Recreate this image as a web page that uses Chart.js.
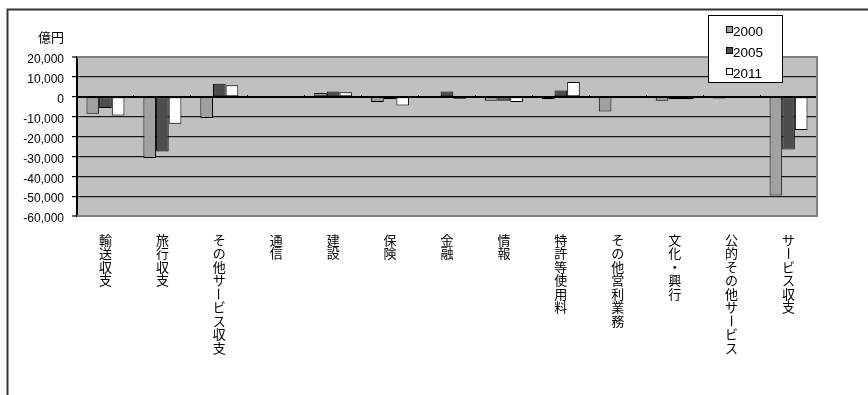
<!DOCTYPE html>
<html lang="ja">
<head>
<meta charset="utf-8">
<title>サービス収支の内訳</title>
<script src="https://cdn.jsdelivr.net/npm/chart.js@4/dist/chart.umd.min.js"></script>
<style>
  html, body { margin: 0; padding: 0; background: #ffffff; }
  #wrap { position: relative; width: 868px; height: 395px; }
</style>
</head>
<body>
<div id="wrap"><canvas id="chart" width="868" height="395"></canvas></div>
<script>
// Service balance breakdown (億円) for 2000, 2005 and 2011
const categories = ['輸送収支', '旅行収支', 'その他サービス収支', '通信', '建設', '保険', '金融', '情報', '特許等使用料', 'その他営利業務', '文化・興行', '公的その他サービス', 'サービス収支'];
const years = ['2000', '2005', '2011'];
const values2000 = [-8500, -30800, -10700, -400, 1900, -2700, 300, -2000, -1200, -7400, -2000, -900, -49700];
const values2005 = [-5700, -27600, 6500, -600, 2600, -1200, 2600, -2000, 3100, 300, -1300, 300, -26500];
const values2011 = [-9400, -13600, 5800, -500, 2300, -4400, -1000, -2600, 7400, 300, -1300, 300, -16700];
const yTicks = [20000, 10000, 0, -10000, -20000, -30000, -40000, -50000, -60000];
const unitLabel = '億円';

const JP_FONT = "'Noto Sans CJK JP', 'Noto Sans', sans-serif";
const NUM_FONT = "'Liberation Sans', Arial, sans-serif";

// Outer frame, plot background and plot border
const framePlugin = {
  id: 'frame',
  beforeDraw(chart) {
    const { ctx, chartArea: a } = chart;
    ctx.save();
    ctx.fillStyle = '#ffffff';
    ctx.fillRect(0, 0, chart.width, chart.height);
    ctx.strokeStyle = '#333333';
    ctx.lineWidth = 2;
    ctx.beginPath();
    ctx.moveTo(7.5, chart.height);
    ctx.lineTo(7.5, 9.5);
    ctx.lineTo(chart.width, 9.5);
    ctx.stroke();
    ctx.fillStyle = '#c0c0c0';
    ctx.fillRect(a.left, a.top, a.right - a.left, a.bottom - a.top);
    ctx.restore();
  },
  beforeDatasetsDraw(chart) {
    const { ctx, chartArea: a } = chart;
    ctx.save();
    ctx.strokeStyle = '#808080';
    ctx.lineWidth = 2;
    ctx.beginPath();
    ctx.moveTo(a.left, a.top);
    ctx.lineTo(a.right, a.top);
    ctx.lineTo(a.right, a.bottom);
    ctx.lineTo(a.left, a.bottom);
    ctx.stroke();
    ctx.restore();
  }
};

// Unit caption, vertical category labels and the boxed legend
const textPlugin = {
  id: 'texts',
  afterDraw(chart) {
    const { ctx } = chart;
    const xs = chart.scales.x;
    ctx.save();
    ctx.fillStyle = '#000000';

    // unit caption above the value axis
    ctx.font = '13px ' + JP_FONT;
    ctx.textAlign = 'right';
    ctx.textBaseline = 'middle';
    ctx.fillText(unitLabel, 64, 37);

    // category names written top-to-bottom, one character per line
    ctx.font = '13px ' + JP_FONT;
    ctx.textAlign = 'center';
    ctx.textBaseline = 'middle';
    const step = 13.5;
    const top = 240;
    categories.forEach((label, i) => {
      const x = xs.getPixelForValue(i);
      Array.from(label).forEach((ch, k) => {
        const y = top + k * step;
        if (ch === 'ー') {
          ctx.save();
          ctx.translate(x, y);
          ctx.rotate(Math.PI / 2);
          ctx.fillText(ch, 0, 0);
          ctx.restore();
        } else {
          ctx.fillText(ch, x, y);
        }
      });
    });

    // legend box
    const box = { x: 708.5, y: 15.5, w: 74, h: 67 };
    ctx.fillStyle = '#ffffff';
    ctx.fillRect(box.x, box.y, box.w, box.h);
    ctx.strokeStyle = '#000000';
    ctx.lineWidth = 1;
    ctx.strokeRect(box.x, box.y, box.w, box.h);
    ctx.font = '13.5px ' + NUM_FONT;
    ctx.textAlign = 'left';
    ctx.textBaseline = 'middle';
    chart.data.datasets.forEach((ds, i) => {
      const cy = 31 + i * 21;
      ctx.fillStyle = ds.backgroundColor;
      ctx.fillRect(726.5, cy - 4.5, 6, 6);
      ctx.strokeStyle = '#000000';
      ctx.strokeRect(726.5, cy - 4.5, 6, 6);
      ctx.fillStyle = '#000000';
      ctx.fillText(ds.label, 733, cy + 1);
    });
    ctx.restore();
  }
};

const seriesColors = ['#a0a0a0', '#4d4d4d', '#ffffff'];
const seriesValues = [values2000, values2005, values2011];

new Chart(document.getElementById('chart'), {
  type: 'bar',
  data: {
    labels: categories,
    datasets: years.map((y, i) => ({
      label: y,
      data: seriesValues[i],
      backgroundColor: seriesColors[i],
      borderColor: '#000000',
      borderWidth: 1,
      borderSkipped: false,
      categoryPercentage: 0.667,
      barPercentage: 1.0
    }))
  },
  options: {
    responsive: false,
    animation: false,
    devicePixelRatio: 1,
    layout: { padding: { left: 0, top: 57, right: 51, bottom: 179 } },
    plugins: {
      legend: { display: false },
      tooltip: { enabled: false },
      title: { display: false }
    },
    scales: {
      x: {
        type: 'category',
        position: { y: 0 },
        offset: true,
        border: { display: true, color: '#000000', width: 2 },
        grid: {
          display: true,
          offset: true,
          drawOnChartArea: false,
          drawTicks: true,
          tickLength: -3,
          color: '#000000',
          lineWidth: 1
        },
        ticks: { display: false },
        afterFit(scale) { scale.height = 0; }
      },
      y: {
        min: -60000,
        max: 20000,
        afterBuildTicks(scale) { scale.ticks = yTicks.map(v => ({ value: v })); },
        border: { display: true, color: '#000000', width: 2 },
        grid: {
          color: (c) => (c.tick && (c.tick.value === 20000 || c.tick.value === -60000)) ? '#808080' : '#1a1a1a',
          lineWidth: (c) => (c.tick && (c.tick.value === 20000 || c.tick.value === -60000)) ? 2 : 1.2,
          tickColor: '#000000',
          tickWidth: 1.2,
          drawTicks: true,
          tickLength: 5
        },
        ticks: {
          color: '#000000',
          font: { family: NUM_FONT, size: 12 },
          padding: 8,
          labelOffset: 3,
          callback: (v) => Number(v).toLocaleString('en-US')
        },
        afterFit(scale) { scale.width = 77; }
      }
    }
  },
  plugins: [framePlugin, textPlugin]
});
</script>
</body>
</html>
